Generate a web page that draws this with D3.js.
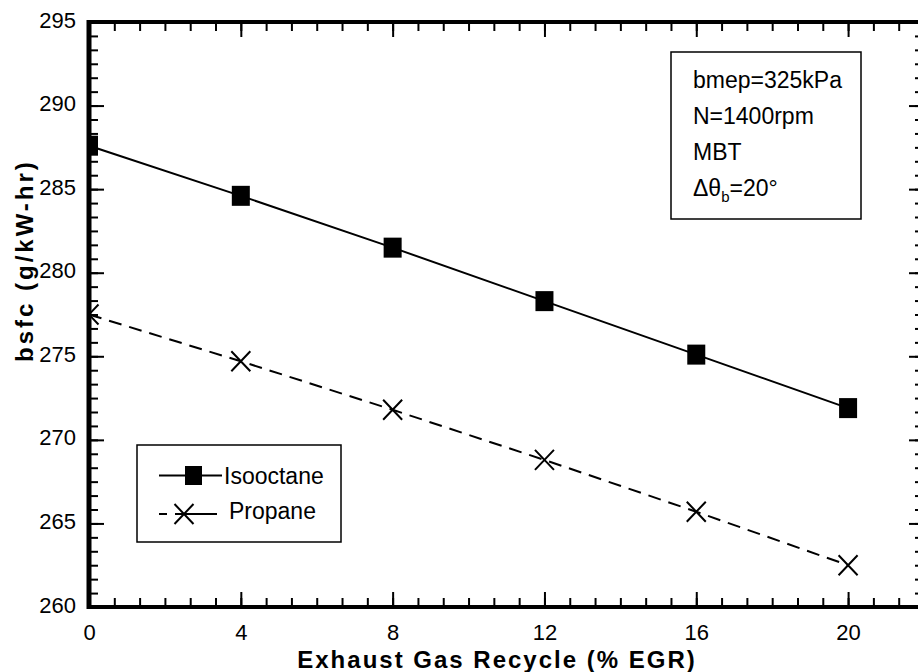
<!DOCTYPE html>
<html><head><meta charset="utf-8">
<script src="https://cdn.jsdelivr.net/npm/d3@7"></script>
<style>body{margin:0;background:#fff}svg{display:block}</style>
</head><body><svg id="c" width="918" height="672"></svg>
<script>
const egr = [0, 4, 8, 12, 16, 20];
const isooctane = [287.6, 284.6, 281.5, 278.3, 275.1, 271.9];
const propane = [277.5, 274.7, 271.8, 268.8, 265.7, 262.5];
const xTicks = [0, 4, 8, 12, 16, 20];
const yTicks = [260, 265, 270, 275, 280, 285, 290, 295];
const seriesNames = ["Isooctane", "Propane"];
const infoLines = ["bmep=325kPa", "N=1400rpm", "MBT"];
const xTitle = "Exhaust Gas Recycle (% EGR)";
const yTitle = "bsfc  (g/kW-hr)";

const svg = d3.select("#c");
const FONT = "'Liberation Sans', Arial, Helvetica, sans-serif";
const L = 89, R = 924, T = 22, B = 607;
const x = d3.scaleLinear().domain([0, 22]).range([L, R]);
const y = d3.scaleLinear().domain([260, 295]).range([B, T]);

const xMinor = d3.range(0, 22.0001, 4 / 6);
const yMinor = d3.range(260, 295.0001, 5 / 6);

function styleAxis(g) {
  g.select(".domain").remove();
  g.selectAll(".tick line").attr("stroke", "#000").attr("stroke-width", 2);
  g.selectAll(".tick text").attr("fill", "#000").style("font-family", FONT).style("font-size", "22px");
}

// minor ticks
svg.append("g").attr("transform", `translate(0,${B})`)
  .call(d3.axisBottom(x).tickValues(xMinor).tickSizeInner(-9).tickSizeOuter(0).tickFormat("")).call(styleAxis);
svg.append("g").attr("transform", `translate(0,${T})`)
  .call(d3.axisTop(x).tickValues(xMinor).tickSizeInner(-9).tickSizeOuter(0).tickFormat("")).call(styleAxis);
svg.append("g").attr("transform", `translate(${L},0)`)
  .call(d3.axisLeft(y).tickValues(yMinor).tickSizeInner(-9).tickSizeOuter(0).tickFormat("")).call(styleAxis);
svg.append("g").attr("transform", `translate(${R},0)`)
  .call(d3.axisRight(y).tickValues(yMinor).tickSizeInner(-9).tickSizeOuter(0).tickFormat("")).call(styleAxis);

// major ticks
const gx = svg.append("g").attr("transform", `translate(0,${B})`)
  .call(d3.axisBottom(x).tickValues(xTicks).tickSizeInner(-15).tickSizeOuter(0).tickFormat(d3.format("d"))).call(styleAxis);
gx.selectAll(".tick text").attr("y", 33).attr("dy", 0);
svg.append("g").attr("transform", `translate(0,${T})`)
  .call(d3.axisTop(x).tickValues(xTicks).tickSizeInner(-15).tickSizeOuter(0).tickFormat("")).call(styleAxis);
const gy = svg.append("g").attr("transform", `translate(${L},0)`)
  .call(d3.axisLeft(y).tickValues(yTicks).tickSizeInner(-15).tickSizeOuter(0).tickPadding(13).tickFormat(d3.format("d"))).call(styleAxis);
gy.selectAll(".tick text").attr("dy", 5);
svg.append("g").attr("transform", `translate(${R},0)`)
  .call(d3.axisRight(y).tickValues(yTicks).tickSizeInner(-15).tickSizeOuter(0).tickFormat("")).call(styleAxis);

// frame
svg.append("line").attr("x1", L - 2).attr("x2", R).attr("y1", T).attr("y2", T).attr("stroke", "#000").attr("stroke-width", 4);
svg.append("line").attr("x1", L - 2).attr("x2", R).attr("y1", B).attr("y2", B).attr("stroke", "#000").attr("stroke-width", 4);
svg.append("line").attr("x1", L).attr("x2", L).attr("y1", T - 2).attr("y2", B + 2).attr("stroke", "#000").attr("stroke-width", 5);
svg.append("line").attr("x1", R).attr("x2", R).attr("y1", T - 2).attr("y2", B + 2).attr("stroke", "#000").attr("stroke-width", 5);

// clip
svg.append("clipPath").attr("id", "plotclip").append("rect")
  .attr("x", L + 2).attr("y", T + 2).attr("width", R - L - 4).attr("height", B - T - 4);
const plot = svg.append("g").attr("clip-path", "url(#plotclip)");

const line = d3.line().x(d => x(d[0])).y(d => y(d[1]));
const isoPts = egr.map((e, i) => [e, isooctane[i]]);
const proPts = egr.map((e, i) => [e, propane[i]]);

plot.append("path").attr("d", line(isoPts)).attr("fill", "none").attr("stroke", "#000").attr("stroke-width", 2);
plot.append("path").attr("d", line(proPts)).attr("fill", "none").attr("stroke", "#000").attr("stroke-width", 2)
  .attr("stroke-dasharray", "13,8");

const SW = 18, SH = 20;
plot.selectAll("rect.iso").data(isoPts).join("rect").attr("class", "iso")
  .attr("x", d => x(d[0]) - SW / 2).attr("y", d => y(d[1]) - SH / 2)
  .attr("width", SW).attr("height", SH).attr("fill", "#000");

const CW = 9.5, CH = 10;
const crossPath = (cx, cy) => `M${cx - CW},${cy - CH}L${cx + CW},${cy + CH}M${cx - CW},${cy + CH}L${cx + CW},${cy - CH}`;
plot.selectAll("path.pro").data(proPts).join("path").attr("class", "pro")
  .attr("d", d => crossPath(x(d[0]), y(d[1])))
  .attr("fill", "none").attr("stroke", "#000").attr("stroke-width", 2);

// axis titles
svg.append("text").attr("x", 497).attr("y", 668).attr("text-anchor", "middle")
  .style("font-family", FONT).style("font-size", "24px").style("font-weight", "bold").style("letter-spacing", "2px")
  .text(xTitle);
svg.append("text").attr("transform", `translate(33,362) rotate(-90)`).attr("text-anchor", "start")
  .style("font-family", FONT).style("font-size", "24px").style("font-weight", "bold").style("letter-spacing", "3px")
  .text(yTitle);

// info box
svg.append("rect").attr("x", 671).attr("y", 52).attr("width", 190).attr("height", 167)
  .attr("fill", "#fff").attr("stroke", "#000").attr("stroke-width", 1.5);
const info = svg.append("g").style("font-family", FONT).style("font-size", "23px");
infoLines.forEach((t, i) => info.append("text").attr("x", 693).attr("y", 88 + i * 36).text(t));
const dl = info.append("text").attr("x", 693).attr("y", 196);
dl.append("tspan").text("\u0394\u03B8");
dl.append("tspan").attr("dy", 6).style("font-size", "15px").text("b");
dl.append("tspan").attr("dy", -6).text("=20\u00B0");

// legend
svg.append("rect").attr("x", 137).attr("y", 445).attr("width", 204).attr("height", 97)
  .attr("fill", "#fff").attr("stroke", "#000").attr("stroke-width", 1.5);
const lg = svg.append("g");
const r1 = 475.5, r2 = 514;
lg.append("line").attr("x1", 159).attr("x2", 222).attr("y1", r1).attr("y2", r1).attr("stroke", "#000").attr("stroke-width", 2);
lg.append("rect").attr("x", 185).attr("y", r1 - 9.5).attr("width", 17).attr("height", 19).attr("fill", "#000");
lg.append("line").attr("x1", 159).attr("x2", 217).attr("y1", r2).attr("y2", r2).attr("stroke", "#000").attr("stroke-width", 2)
  .attr("stroke-dasharray", "8,8,42");
lg.append("path").attr("d", crossPath(184, r2)).attr("fill", "none").attr("stroke", "#000").attr("stroke-width", 2);
lg.selectAll("text").data(seriesNames).join("text")
  .attr("x", (d, i) => i === 0 ? 224 : 229).attr("y", (d, i) => i === 0 ? 484 : 519)
  .style("font-family", FONT).style("font-size", "23px").text(d => d);
</script>
</body></html>
